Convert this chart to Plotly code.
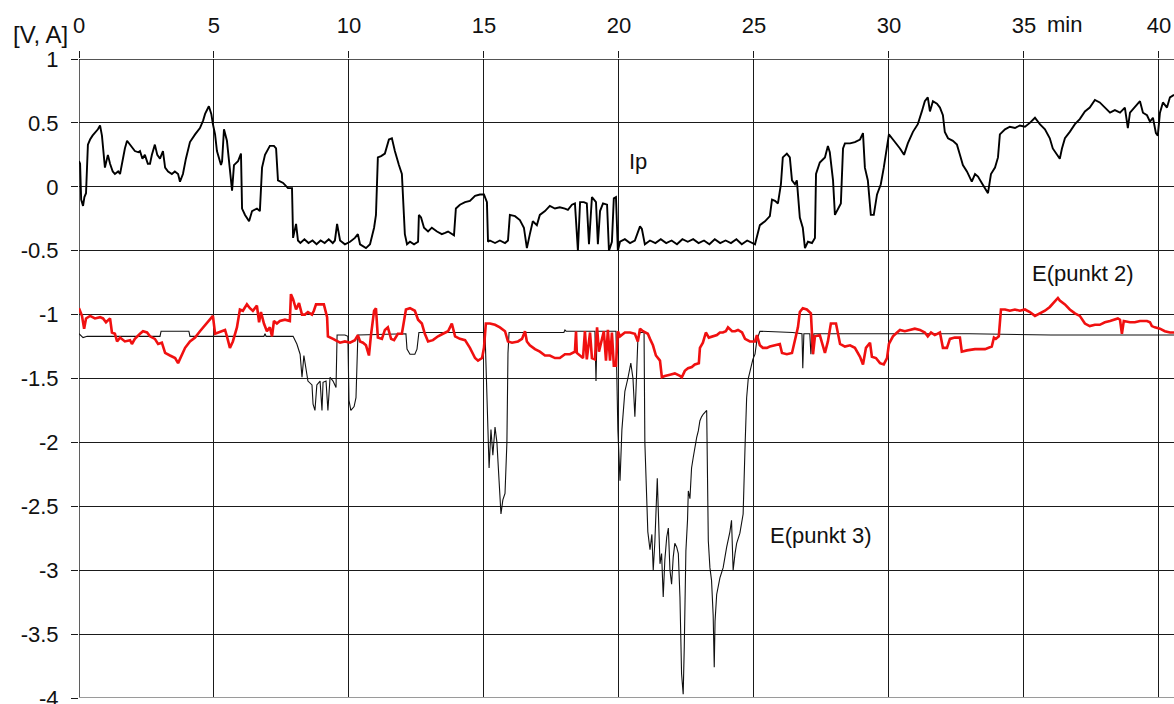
import plotly.graph_objects as go

# ---------------- data (time in min, values in V / A) ----------------
ip_t = [0.00,0.04,0.08,0.15,0.20,0.26,0.33,0.41,0.50,0.59,0.70,0.78,0.85,0.96,1.02,1.07,1.15,1.25,1.33,1.45,1.52,1.60,1.70,1.78,1.89,2.00,2.07,2.20,2.26,2.35,2.44,2.55,2.63,2.70,2.81,2.90,3.00,3.11,3.19,3.30,3.44,3.55,3.67,3.74,3.85,3.96,4.11,4.30,4.48,4.60,4.67,4.81,4.90,4.96,5.04,5.11,5.26,5.30,5.37,5.48,5.56,5.67,5.74,5.89,6.00,6.04,6.15,6.30,6.41,6.59,6.70,6.78,6.89,7.07,7.22,7.30,7.37,7.56,7.74,7.89,7.93,8.04,8.11,8.20,8.35,8.50,8.65,8.80,8.95,9.10,9.25,9.40,9.48,9.56,9.67,9.85,10.04,10.22,10.33,10.41,10.63,10.78,10.93,11.00,11.07,11.19,11.33,11.48,11.59,11.70,11.85,11.96,12.07,12.15,12.26,12.41,12.56,12.59,12.67,12.78,12.93,13.07,13.26,13.44,13.56,13.67,13.89,13.96,14.11,14.30,14.48,14.67,14.85,15.00,15.11,15.15,15.22,15.41,15.59,15.78,15.89,15.96,16.15,16.33,16.48,16.59,16.70,16.81,16.96,17.07,17.26,17.44,17.63,17.81,18.00,18.11,18.26,18.37,18.48,18.56,18.70,18.81,18.89,19.00,19.15,19.22,19.30,19.41,19.56,19.63,19.74,19.81,19.89,19.96,20.04,20.22,20.41,20.59,20.78,20.85,20.96,21.15,21.35,21.55,21.75,21.95,22.15,22.35,22.55,22.75,22.95,23.15,23.35,23.55,23.75,23.95,24.15,24.35,24.55,24.75,25.04,25.22,25.41,25.59,25.67,25.78,25.89,26.00,26.07,26.22,26.33,26.41,26.52,26.59,26.70,26.81,26.89,27.00,27.15,27.26,27.30,27.44,27.63,27.74,27.81,27.93,28.00,28.11,28.22,28.30,28.37,28.56,28.74,28.93,29.04,29.11,29.22,29.33,29.44,29.56,29.70,29.81,29.89,29.96,30.00,30.15,30.30,30.41,30.56,30.70,30.89,31.07,31.22,31.33,31.44,31.52,31.63,31.78,31.89,32.00,32.07,32.19,32.37,32.52,32.63,32.74,32.89,33.07,33.19,33.30,33.44,33.56,33.67,33.78,33.93,34.04,34.11,34.30,34.48,34.67,34.85,35.04,35.22,35.41,35.59,35.78,35.96,36.07,36.22,36.33,36.41,36.52,36.70,36.89,37.07,37.26,37.44,37.63,37.81,38.00,38.19,38.37,38.56,38.74,38.85,38.93,39.11,39.30,39.41,39.56,39.67,39.78,39.89,39.96,40.04,40.15,40.30,40.41,40.56]
ip_v = [0.20,0.18,-0.10,-0.15,-0.08,-0.05,0.33,0.37,0.40,0.42,0.45,0.48,0.40,0.15,0.22,0.25,0.18,0.12,0.10,0.12,0.10,0.20,0.30,0.36,0.33,0.30,0.28,0.27,0.28,0.22,0.25,0.18,0.18,0.25,0.33,0.25,0.22,0.28,0.15,0.12,0.10,0.12,0.10,0.04,0.10,0.22,0.35,0.41,0.46,0.52,0.57,0.63,0.57,0.49,0.41,0.28,0.17,0.20,0.45,0.36,0.17,-0.03,0.17,0.20,0.26,-0.17,-0.22,-0.27,-0.19,-0.17,-0.19,0.15,0.25,0.32,0.32,0.30,0.05,0.03,-0.01,-0.01,-0.40,-0.29,-0.42,-0.44,-0.41,-0.44,-0.42,-0.45,-0.42,-0.44,-0.41,-0.44,-0.42,-0.29,-0.42,-0.45,-0.43,-0.40,-0.37,-0.45,-0.48,-0.45,-0.32,-0.22,0.23,0.24,0.26,0.37,0.38,0.28,0.17,0.10,-0.37,-0.45,-0.43,-0.45,-0.43,-0.22,-0.24,-0.32,-0.35,-0.32,-0.35,-0.37,-0.36,-0.35,-0.38,-0.17,-0.14,-0.12,-0.11,-0.07,-0.06,-0.06,-0.12,-0.43,-0.42,-0.44,-0.42,-0.44,-0.42,-0.22,-0.23,-0.26,-0.32,-0.48,-0.37,-0.27,-0.30,-0.22,-0.19,-0.15,-0.17,-0.16,-0.17,-0.18,-0.14,-0.13,-0.50,-0.12,-0.12,-0.13,-0.45,-0.08,-0.12,-0.45,-0.19,-0.13,-0.14,-0.50,-0.43,-0.09,-0.08,-0.50,-0.43,-0.41,-0.44,-0.42,-0.31,-0.33,-0.45,-0.42,-0.44,-0.41,-0.44,-0.42,-0.45,-0.41,-0.43,-0.41,-0.44,-0.42,-0.45,-0.41,-0.44,-0.42,-0.44,-0.41,-0.45,-0.42,-0.45,-0.30,-0.27,-0.23,-0.10,-0.11,-0.13,0.02,0.23,0.26,0.23,0.05,0.02,0.05,-0.24,-0.32,-0.48,-0.43,-0.44,-0.40,0.10,0.19,0.23,0.32,0.27,0.05,-0.22,-0.17,-0.13,0.30,0.34,0.34,0.35,0.37,0.42,0.15,0.05,-0.22,-0.22,-0.06,0.02,0.15,0.25,0.33,0.41,0.37,0.33,0.30,0.25,0.34,0.43,0.49,0.59,0.67,0.70,0.59,0.67,0.65,0.62,0.56,0.43,0.38,0.36,0.33,0.25,0.17,0.12,0.04,0.10,0.08,0.03,-0.01,-0.05,0.10,0.15,0.23,0.41,0.45,0.47,0.46,0.48,0.47,0.50,0.54,0.49,0.45,0.38,0.30,0.25,0.22,0.30,0.38,0.43,0.49,0.53,0.59,0.62,0.68,0.66,0.62,0.58,0.60,0.58,0.62,0.46,0.58,0.62,0.67,0.58,0.56,0.51,0.54,0.42,0.40,0.58,0.66,0.62,0.70,0.72]

e2_t = [0.00,0.11,0.19,0.26,0.41,0.59,0.78,0.89,1.00,1.15,1.22,1.33,1.41,1.52,1.70,1.89,1.96,2.07,2.26,2.37,2.52,2.63,2.81,2.93,3.07,3.19,3.37,3.56,3.67,3.78,3.93,4.11,4.30,4.48,4.67,4.78,4.96,5.04,5.15,5.30,5.41,5.48,5.59,5.70,5.85,5.96,6.07,6.22,6.33,6.44,6.59,6.67,6.74,6.85,6.96,7.07,7.15,7.22,7.33,7.44,7.63,7.81,7.85,7.93,8.04,8.15,8.26,8.37,8.48,8.63,8.70,8.78,8.93,9.07,9.19,9.22,9.41,9.67,9.85,10.04,10.22,10.33,10.41,10.52,10.63,10.74,10.81,10.93,11.00,11.07,11.22,11.33,11.44,11.56,11.67,11.81,11.96,12.11,12.26,12.44,12.56,12.70,12.81,12.93,13.11,13.30,13.48,13.67,13.81,13.93,14.11,14.30,14.48,14.67,14.78,14.93,15.00,15.07,15.22,15.41,15.59,15.78,15.89,16.04,16.26,16.41,16.52,16.59,16.70,16.89,17.07,17.26,17.44,17.63,17.81,18.00,18.19,18.37,18.41,18.44,18.67,18.74,18.81,18.93,19.00,19.11,19.19,19.26,19.44,19.52,19.59,19.67,19.74,19.81,19.89,19.96,20.04,20.22,20.41,20.59,20.70,20.78,20.89,21.07,21.15,21.26,21.37,21.52,21.59,21.70,21.89,22.07,22.26,22.33,22.44,22.56,22.70,22.81,22.96,23.00,23.11,23.22,23.33,23.48,23.63,23.74,23.85,23.96,24.04,24.19,24.30,24.41,24.56,24.67,24.85,25.04,25.11,25.22,25.33,25.48,25.59,25.78,25.96,26.04,26.22,26.41,26.52,26.63,26.70,26.81,26.96,27.11,27.19,27.26,27.44,27.63,27.74,27.85,28.04,28.11,28.19,28.37,28.56,28.74,28.93,29.04,29.15,29.30,29.37,29.52,29.67,29.81,29.93,30.00,30.15,30.30,30.41,30.59,30.78,30.96,31.15,31.33,31.44,31.56,31.70,31.89,32.00,32.15,32.26,32.44,32.63,32.70,32.89,33.19,33.56,33.81,33.89,33.96,34.07,34.15,34.30,34.48,34.67,34.85,35.04,35.22,35.41,35.59,35.78,35.96,36.15,36.26,36.33,36.52,36.70,36.89,37.07,37.26,37.44,37.63,37.81,38.00,38.19,38.37,38.48,38.56,38.63,38.70,38.93,39.11,39.30,39.56,39.67,39.74,39.85,40.04,40.22,40.41,40.56]
e2_v = [-0.95,-1.01,-1.11,-1.03,-1.01,-1.03,-1.02,-1.03,-1.06,-1.03,-1.14,-1.15,-1.21,-1.18,-1.21,-1.20,-1.23,-1.19,-1.15,-1.13,-1.14,-1.17,-1.19,-1.23,-1.22,-1.30,-1.32,-1.34,-1.38,-1.33,-1.26,-1.21,-1.18,-1.13,-1.08,-1.06,-1.01,-1.15,-1.14,-1.13,-1.12,-1.17,-1.26,-1.21,-1.10,-0.96,-0.97,-0.92,-0.95,-0.97,-0.93,-1.06,-0.98,-1.07,-1.13,-1.10,-1.17,-1.05,-1.07,-1.05,-1.04,-1.05,-0.84,-0.88,-0.96,-0.91,-1.00,-1.00,-0.98,-1.00,-0.97,-0.92,-0.92,-0.92,-1.02,-1.17,-1.19,-1.22,-1.21,-1.22,-1.20,-1.16,-1.21,-1.22,-1.24,-1.32,-1.17,-0.97,-0.95,-1.18,-1.19,-1.12,-1.10,-1.19,-1.20,-1.15,-1.15,-0.96,-0.95,-0.97,-1.04,-1.07,-1.15,-1.21,-1.20,-1.17,-1.15,-1.13,-1.07,-1.17,-1.19,-1.20,-1.26,-1.34,-1.36,-1.34,-1.26,-1.07,-1.07,-1.08,-1.10,-1.13,-1.21,-1.22,-1.21,-1.19,-1.13,-1.21,-1.24,-1.27,-1.29,-1.32,-1.32,-1.34,-1.34,-1.31,-1.31,-1.29,-1.13,-1.30,-1.34,-1.13,-1.35,-1.14,-1.34,-1.35,-1.10,-1.29,-1.13,-1.36,-1.12,-1.36,-1.14,-1.40,-1.40,-1.13,-1.17,-1.14,-1.14,-1.15,-1.21,-1.11,-1.13,-1.15,-1.19,-1.24,-1.32,-1.36,-1.49,-1.48,-1.47,-1.46,-1.48,-1.49,-1.44,-1.42,-1.41,-1.39,-1.38,-1.26,-1.22,-1.14,-1.18,-1.17,-1.16,-1.14,-1.14,-1.13,-1.10,-1.13,-1.13,-1.12,-1.14,-1.19,-1.21,-1.21,-1.16,-1.24,-1.26,-1.26,-1.25,-1.24,-1.23,-1.30,-1.31,-1.30,-1.21,-1.10,-0.98,-0.95,-0.96,-0.99,-1.31,-1.17,-1.16,-1.30,-1.21,-1.07,-1.07,-1.15,-1.23,-1.25,-1.24,-1.26,-1.33,-1.39,-1.26,-1.22,-1.33,-1.34,-1.38,-1.39,-1.34,-1.23,-1.17,-1.14,-1.12,-1.13,-1.12,-1.11,-1.12,-1.14,-1.17,-1.14,-1.16,-1.14,-1.26,-1.26,-1.19,-1.18,-1.18,-1.29,-1.28,-1.27,-1.27,-1.25,-1.18,-1.19,-1.17,-0.96,-0.96,-0.97,-0.96,-0.97,-0.96,-0.98,-1.01,-0.99,-0.97,-0.94,-0.89,-0.87,-0.89,-0.92,-0.96,-0.99,-1.01,-1.07,-1.09,-1.08,-1.08,-1.06,-1.05,-1.04,-1.03,-1.04,-1.15,-1.05,-1.06,-1.06,-1.05,-1.05,-1.06,-1.09,-1.10,-1.11,-1.13,-1.14,-1.14]

e3_t = [0.00,0.15,0.30,3.00,3.04,4.07,4.11,6.85,6.89,6.93,7.93,8.07,8.19,8.26,8.33,8.41,8.48,8.63,8.67,8.74,8.81,8.93,9.00,9.04,9.15,9.22,9.30,9.41,9.52,9.56,9.85,9.96,10.00,10.07,10.19,10.26,10.30,10.33,12.11,12.15,12.26,12.44,12.52,12.59,15.04,15.11,15.15,15.19,15.26,15.33,15.41,15.48,15.56,15.63,15.70,15.78,15.85,15.89,15.93,17.96,18.00,18.04,19.11,19.15,19.19,19.89,19.96,20.04,20.11,20.22,20.33,20.44,20.52,20.59,20.63,20.70,20.78,20.93,20.96,21.04,21.07,21.15,21.22,21.27,21.33,21.42,21.46,21.52,21.58,21.64,21.70,21.77,21.83,21.89,21.95,22.01,22.07,22.14,22.20,22.26,22.32,22.38,22.42,22.44,22.48,22.54,22.57,22.63,22.69,22.75,22.81,22.88,22.94,23.00,23.06,23.12,23.25,23.31,23.37,23.43,23.49,23.53,23.56,23.62,23.74,23.86,23.99,24.11,24.17,24.23,24.30,24.36,24.48,24.60,24.67,24.73,24.79,24.85,24.96,25.04,25.11,25.22,26.44,26.78,26.81,26.85,27.07,27.11,27.15,27.19,27.22,30.00,33.00,36.00,40.56]
e3_v = [-1.15,-1.18,-1.17,-1.17,-1.13,-1.13,-1.17,-1.17,-1.15,-1.17,-1.17,-1.23,-1.31,-1.49,-1.32,-1.45,-1.52,-1.55,-1.70,-1.75,-1.55,-1.52,-1.75,-1.53,-1.52,-1.75,-1.49,-1.52,-1.57,-1.16,-1.16,-1.17,-1.67,-1.75,-1.72,-1.65,-1.22,-1.16,-1.15,-1.27,-1.31,-1.31,-1.27,-1.14,-1.14,-1.60,-2.00,-2.20,-1.90,-2.10,-1.88,-2.00,-2.30,-2.56,-2.45,-2.40,-2.00,-1.30,-1.14,-1.14,-1.12,-1.13,-1.13,-1.52,-1.13,-1.13,-1.90,-2.30,-1.90,-1.60,-1.50,-1.38,-1.50,-1.80,-1.60,-1.20,-1.14,-1.14,-2.00,-2.59,-2.70,-2.84,-2.72,-3.00,-2.78,-2.28,-2.65,-2.95,-2.87,-3.21,-2.92,-2.74,-2.67,-3.00,-3.11,-2.90,-2.79,-2.82,-2.87,-3.21,-3.81,-3.97,-3.60,-3.30,-2.85,-2.61,-2.38,-2.44,-2.20,-2.12,-2.04,-1.96,-1.91,-1.83,-1.80,-1.78,-1.75,-2.77,-2.98,-3.08,-3.35,-3.76,-3.40,-3.19,-3.06,-2.98,-2.82,-2.70,-2.61,-3.00,-2.87,-2.79,-2.71,-2.56,-2.04,-1.65,-1.50,-1.45,-1.35,-1.31,-1.20,-1.13,-1.14,-1.15,-1.42,-1.15,-1.15,-1.31,-1.18,-1.31,-1.15,-1.15,-1.15,-1.16,-1.16]

x_ticks = [0, 5, 10, 15, 20, 25, 30, 35, 40]
x_labels = ["0", "5", "10", "15", "20", "25", "30", "35", "40"]
y_ticks = [1, 0.5, 0, -0.5, -1, -1.5, -2, -2.5, -3, -3.5, -4]
y_labels = ["1", "0.5", "0", "-0.5", "-1", "-1.5", "-2", "-2.5", "-3", "-3.5", "-4"]

FONT = "Liberation Sans, Arial, sans-serif"
GRID = "#1a1a1a"

fig = go.Figure()
fig.add_trace(go.Scatter(x=e3_t, y=e3_v, mode="lines", name="E(punkt 3)",
                         line=dict(color="#111111", width=1.1)))
fig.add_trace(go.Scatter(x=e2_t, y=e2_v, mode="lines", name="E(punkt 2)",
                         line=dict(color="#f01010", width=2.6)))
fig.add_trace(go.Scatter(x=ip_t, y=ip_v, mode="lines", name="Ip",
                         line=dict(color="#000000", width=1.9)))

fig.update_layout(
    width=1174, height=704,
    margin=dict(l=79, r=0, t=59, b=6),
    paper_bgcolor="white", plot_bgcolor="white",
    showlegend=False,
    font=dict(family=FONT, size=22, color="#111111"),
    xaxis=dict(range=[0, 40.56], side="top", tickmode="array",
               tickvals=x_ticks, ticktext=x_labels,
               showgrid=True, gridcolor=GRID, gridwidth=1.4,
               ticks="outside", ticklen=7, tickwidth=1.4, tickcolor=GRID,
               zeroline=False, showline=False, ticklabelstandoff=9,
               ticklabeloverflow="allow", automargin=False,
               tickfont=dict(size=22, family=FONT, color="#111111")),
    yaxis=dict(range=[-4, 1], tickmode="array", tickvals=y_ticks, ticktext=y_labels,
               showgrid=True, gridcolor=GRID, gridwidth=1.4,
               ticks="outside", ticklen=7, tickwidth=1.4, tickcolor=GRID,
               zeroline=False, showline=False, ticklabelstandoff=8,
               ticklabeloverflow="allow", automargin=False,
               tickfont=dict(size=22, family=FONT, color="#111111")),
)

# edge grid lines (plotly omits grid lines that sit on the range edges)
fig.add_shape(type="line", xref="paper", yref="y", x0=0, x1=1, y0=1, y1=1,
              line=dict(color=GRID, width=1.4), layer="below")
fig.add_shape(type="line", xref="x", yref="paper", x0=0, x1=0, y0=0, y1=1,
              line=dict(color=GRID, width=1.4), layer="below")
fig.add_shape(type="line", xref="paper", yref="y", x0=0, x1=1, y0=-4, y1=-4,
              line=dict(color="#9a9a9a", width=2))

ann = [
    dict(text="Ip", x=20.7, y=0.2, xref="x", yref="y", size=22),
    dict(text="E(punkt 2)", x=37.19, y=-0.675, xref="x", yref="y", size=22),
    dict(text="E(punkt 3)", x=27.48, y=-2.73, xref="x", yref="y", size=22),
    dict(text="[V, A]", x=-0.0356, y=1.039, xref="paper", yref="paper", size=24),
    dict(text="min", x=0.900, y=1.0536, xref="paper", yref="paper", size=22),
]
for a in ann:
    s = a.pop("size")
    fig.add_annotation(showarrow=False, font=dict(size=s, family=FONT, color="#111111"),
                       xanchor="center", yanchor="middle", **a)

fig.write_html("out.html")
